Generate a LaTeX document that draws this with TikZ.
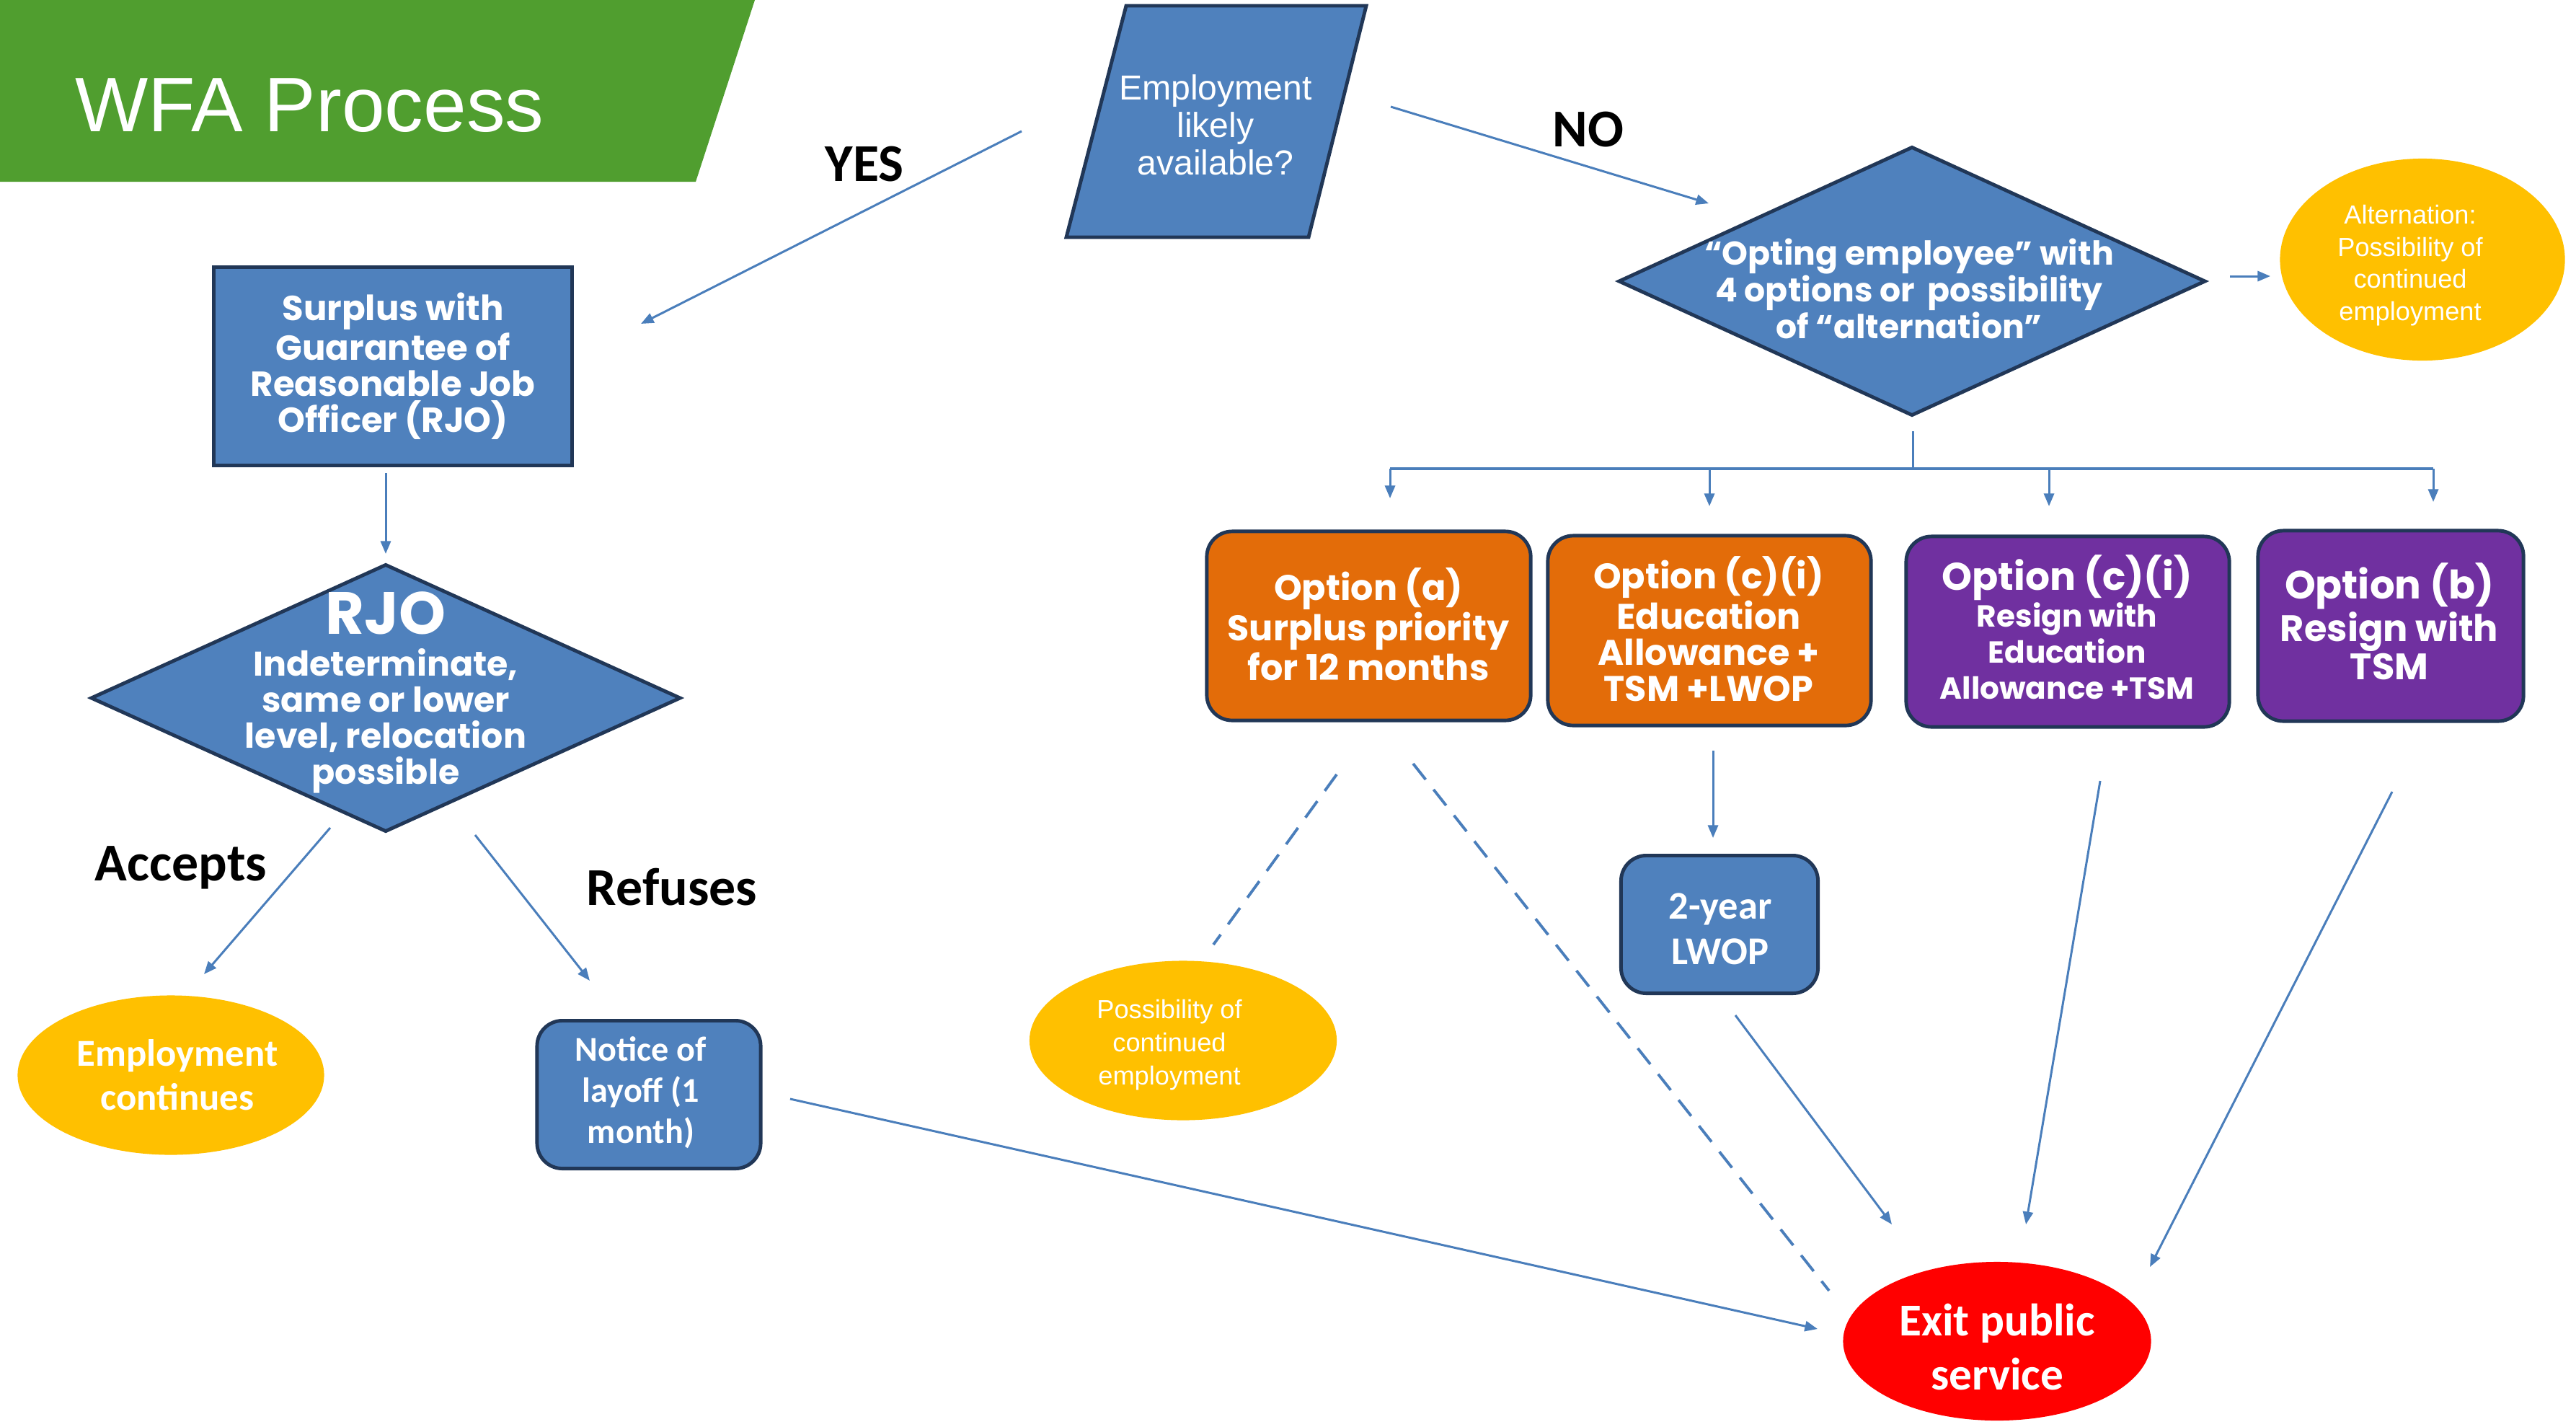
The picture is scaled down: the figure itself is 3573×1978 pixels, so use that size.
\documentclass[tikz,border=0pt]{standalone}
\usepackage{fontspec}
\setmainfont{Liberation Sans}
\newfontfamily\arialf{Liberation Sans}
\newfontfamily\calib{Carlito}
\newfontfamily\mont{Poppins}
\usetikzlibrary{arrows.meta,shapes.geometric}
\definecolor{blueF}{RGB}{79,129,189}
\definecolor{navy}{RGB}{33,55,87}
\definecolor{lineB}{RGB}{74,126,187}
\definecolor{orangeF}{RGB}{227,108,9}
\definecolor{purpleF}{RGB}{112,48,160}
\definecolor{yellowF}{RGB}{255,192,0}
\definecolor{redF}{RGB}{255,0,0}
\definecolor{greenF}{RGB}{80,158,47}
\tikzset{
  box/.style={rectangle, draw=navy, line width=1.4pt, fill=blueF, inner sep=0pt},
  rbox/.style={box, rounded corners=10pt},
  diam/.style={diamond, draw=navy, line width=1.4pt, fill=blueF, inner sep=0pt},
  oval/.style={ellipse, inner sep=0pt, draw=none},
  wtxt/.style={text=white, align=center, inner sep=0pt},
  lbl/.style={text=black, inner sep=0pt, font=\calib\bfseries\fontsize{21}{25}\selectfont},
  conn/.style={draw=lineB, line width=0.85pt, -{Triangle[length=5pt,width=4pt]}},
  plain/.style={draw=lineB, line width=0.85pt},
  dconn/.style={draw=lineB, line width=1.1pt, dash pattern=on 8pt off 5pt}
}
\begin{document}
\begin{tikzpicture}[x=0.01cm,y=-0.01cm]
\useasboundingbox (0,0) rectangle (3573,1978);
\fill[white] (0,0) rectangle (3573,1978);

% banner
\fill[greenF] (0,0) -- (1047,0) -- (965,252) -- (0,252) -- cycle;
\node[anchor=base west, inner sep=0pt, text=white, font=\arialf\fontsize{30.5}{36}\selectfont] (title) at (104,182) {WFA Process};

% Employment likely available? (parallelogram)
\filldraw[fill=blueF, draw=navy, line width=1.4pt] (1562,8) -- (1895,8) -- (1815,329) -- (1479,329) -- cycle;
\node[wtxt, font=\arialf\fontsize{13.7}{14.8}\selectfont] (emp) at (1686,173) {Employment\\likely\\available?};

% Opting diamond
\node[diam, minimum width=8.14cm, minimum height=3.73cm] (opt) at (2652,390) {};
\node[wtxt, font=\mont\bfseries\fontsize{13}{14.5}\selectfont] (optT) at (2648,400) {“Opting employee” with\\4 options or\, possibility\\of “alternation”};

% Alternation ellipse
\node[oval, fill=yellowF, minimum width=3.95cm, minimum height=2.80cm] (alt) at (3360,360) {};
\node[wtxt, font=\arialf\fontsize{10.3}{12.7}\selectfont] (altT) at (3343,368) {Alternation:\\Possibility of\\continued\\employment};

% Surplus rectangle
\node[box, minimum width=4.97cm, minimum height=2.75cm] (sur) at (545,508) {};
\node[wtxt, font=\mont\bfseries\fontsize{13.7}{14.3}\selectfont] (surT) at (545,508) {Surplus with\\Guarantee of\\Reasonable Job\\Officer (RJO)};

% RJO diamond
\node[diam, minimum width=8.18cm, minimum height=3.71cm] (rjo) at (535,968) {};
\node[wtxt, font=\mont\bfseries\fontsize{23.5}{26}\selectfont] (rjoH) at (535,850) {RJO};
\node[wtxt, font=\mont\bfseries\fontsize{13.5}{14.2}\selectfont] (rjoT) at (535,1000) {Indeterminate,\\same or lower\\level, relocation\\possible};

% Employment continues
\node[oval, fill=yellowF, minimum width=4.25cm, minimum height=2.21cm] (cont) at (237,1491) {};
\node[wtxt, font=\calib\bfseries\fontsize{15}{17.4}\selectfont] (contT) at (246,1491) {Employment\\continues};

% Notice of layoff
\node[rbox, minimum width=3.10cm, minimum height=2.05cm] (notice) at (900,1518) {};
\node[wtxt, font=\calib\bfseries\fontsize{13.7}{16.2}\selectfont] (noticeT) at (889,1515) {Notice of\\layoff (1\\month)};

% Option boxes
\node[rbox, fill=orangeF, minimum width=4.49cm, minimum height=2.62cm] (oa) at (1898.5,868) {};
\node[wtxt, font=\mont\bfseries\fontsize{14}{14.6}\selectfont] (oaT) at (1898,866) {Option (a)\\Surplus priority\\for 12 months};

\node[rbox, fill=orangeF, minimum width=4.48cm, minimum height=2.63cm] (oc) at (2371,874.5) {};
\node[wtxt, font=\mont\bfseries\fontsize{14}{14.3}\selectfont] (ocT) at (2370,872) {Option (c)(i)\\Education\\Allowance +\\TSM +LWOP};

\node[rbox, fill=purpleF, minimum width=4.48cm, minimum height=2.64cm] (pc) at (2868,876) {};
\node[wtxt, font=\mont\bfseries\fontsize{12}{14.3}\selectfont] (pcT) at (2867,870) {{\fontsize{15.2}{16}\selectfont Option (c)(i)}\\Resign with\\Education\\Allowance +TSM};

\node[rbox, fill=purpleF, minimum width=3.68cm, minimum height=2.64cm] (ob) at (3316,868) {};
\node[wtxt, font=\mont\bfseries\fontsize{14.5}{15}\selectfont] (obT) at (3314,862) {{\fontsize{15.5}{15}\selectfont Option (b)}\\Resign with\\TSM};

% 2-year LWOP
\node[rbox, minimum width=2.73cm, minimum height=1.91cm] (lwop) at (2385,1282) {};
\node[wtxt, font=\calib\bfseries\fontsize{15.5}{18}\selectfont] (lwopT) at (2386,1288) {2-year\\LWOP};

% Possibility of continued employment
\node[oval, fill=yellowF, minimum width=4.26cm, minimum height=2.21cm] (poss) at (1641,1443) {};
\node[wtxt, font=\arialf\fontsize{10.3}{13.1}\selectfont] (possT) at (1622,1449) {Possibility of\\continued\\employment};

% Exit public service
\node[oval, fill=redF, minimum width=4.27cm, minimum height=2.20cm] (exit) at (2770,1860) {};
\node[wtxt, font=\calib\bfseries\fontsize{18}{21.3}\selectfont] (exitT) at (2770,1868) {Exit public\\service};

% labels
\node[lbl] (yes) at (1199,228) {YES};
\node[lbl] (no) at (2203,180) {NO};
\node[lbl] (acc) at (251,1203) {Accepts};
\node[lbl] (ref) at (932,1230) {Refuses};

% connector end points
\coordinate (yesA) at (1417,182);   \coordinate (yesB) at (889,449);
\coordinate (noA) at (1929,148);    \coordinate (noB) at (2370,282);
\coordinate (altA) at (3093,383);   \coordinate (altB) at (3149,383);
\coordinate (surA) at (535,656);    \coordinate (surB) at (535,768);
\coordinate (accA) at (458,1148);   \coordinate (accB) at (283,1351);
\coordinate (refA) at (659,1158);   \coordinate (refB) at (818,1360);
\coordinate (notA) at (1096,1524);  \coordinate (notB) at (2521,1843);
\coordinate (trTop) at (2653,598);  \coordinate (trMid) at (2653,650);
\coordinate (trL) at (1928,650);    \coordinate (trR) at (3375,650);
\coordinate (tr2) at (2371,650);    \coordinate (tr3) at (2842,650);
\coordinate (ta) at (1928,691);     \coordinate (tc) at (2371,702);
\coordinate (tp) at (2842,702);     \coordinate (tb) at (3375,696);
\coordinate (ocA) at (2376,1041);   \coordinate (ocB) at (2376,1162);
\coordinate (lwA) at (2407,1408);   \coordinate (lwB) at (2624,1698);
\coordinate (pcA) at (2913,1083);   \coordinate (pcB) at (2810,1698);
\coordinate (obA) at (3318,1098);   \coordinate (obB) at (2982,1757);
\coordinate (d1A) at (1854,1074);   \coordinate (d1B) at (1683,1310);
\coordinate (d2A) at (1960,1059);   \coordinate (d2B) at (2537,1790);

% connectors
\draw[conn] (yesA) -- (yesB);
\draw[conn] (noA) -- (noB);
\draw[conn] (altA) -- (altB);
\draw[conn] (surA) -- (surB);
\draw[conn] (accA) -- (accB);
\draw[conn] (refA) -- (refB);
\draw[conn] (notA) -- (notB);
\draw[plain] (trTop) -- (trMid);
\draw[draw=lineB, line width=1.4pt] (trL) -- (trR);
\draw[conn] (trL) -- (ta);
\draw[conn] (tr2) -- (tc);
\draw[conn] (tr3) -- (tp);
\draw[conn] (trR) -- (tb);
\draw[conn] (ocA) -- (ocB);
\draw[conn] (lwA) -- (lwB);
\draw[conn] (pcA) -- (pcB);
\draw[conn] (obA) -- (obB);
\draw[dconn] (d1A) -- (d1B);
\draw[dconn] (d2A) -- (d2B);
\end{tikzpicture}
\end{document}
